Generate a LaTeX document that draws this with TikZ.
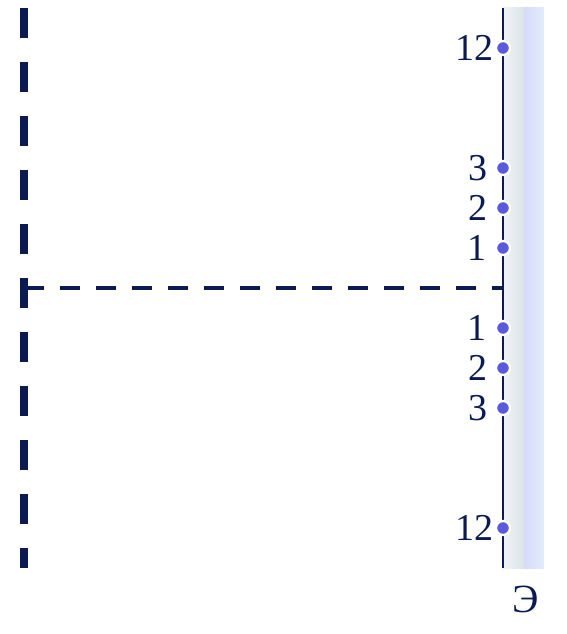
\documentclass[tikz,border=0pt]{standalone}
\usepackage{fontspec}
\setmainfont{Liberation Serif}
\definecolor{navy}{RGB}{11,27,82}
\definecolor{dotblue}{RGB}{92,90,220}
\definecolor{stripA}{RGB}{238,243,246}
\definecolor{stripB}{RGB}{220,228,232}
\definecolor{stripC}{RGB}{216,218,251}
\definecolor{stripD}{RGB}{226,237,250}
\tikzset{
  px/.style={x=1pt,y=-1pt},
  pin/.style={circle,fill=dotblue,draw=white,line width=2.3pt,minimum size=14pt,inner sep=0pt},
  lbl/.style={anchor=base east,inner sep=0pt,text=navy,font=\fontsize{38}{38}\selectfont},
}
\begin{document}
\begin{tikzpicture}[px]
\useasboundingbox (0,0) rectangle (566,634);
% screen strip
\shade[left color=stripA,right color=stripB] (503,8) rectangle (524,568);
\shade[left color=stripC,right color=stripD] (524,8) rectangle (544,568);
% coordinates
\coordinate (axL) at (24,288);
\coordinate (axR) at (503,288);
\coordinate (vT) at (24,8);
\coordinate (vB) at (24,568);
\coordinate (sT) at (503,8);
\coordinate (sB) at (503,568);
% dashed lines
\draw[navy,line width=4pt,dash pattern=on 20pt off 16pt] (axL) -- (axR);
\draw[navy,line width=8pt,dash pattern=on 30pt off 24pt] (vT) -- (vB);
\draw[navy,line width=2.4pt] (sT) -- (sB);
% pins
\foreach \n/\y/\t/\e in {a12/48/12/494, a3/168/3/488, a2/208/2/488, a1/248/1/487,
                          b1/328/1/487, b2/368/2/488, b3/408/3/488, b12/528/12/494}{
  \node[pin] (p\n) at (503,\y) {};
  \node[lbl] (l\n) at (\e,\y+12.5) {\t};
}
\node[anchor=base,inner sep=0pt,text=navy,font=\fontsize{40}{40}\selectfont] (screen) at (526,612) {Э};
\end{tikzpicture}
\end{document}
